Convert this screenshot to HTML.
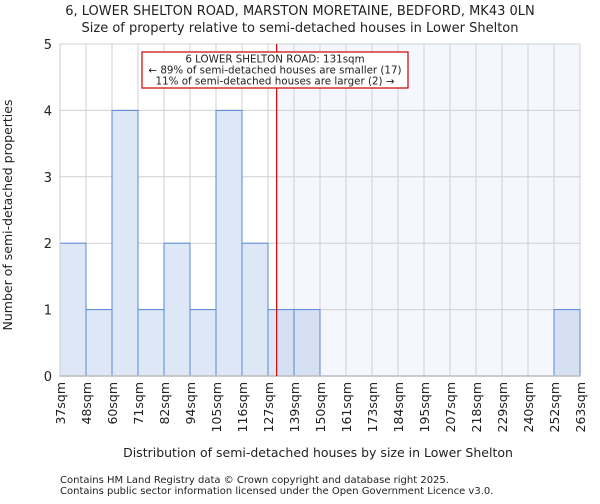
<!DOCTYPE html>
<html><head><meta charset="utf-8"><style>
body{margin:0;background:#fff;font-family:"DejaVu Sans","Liberation Sans",sans-serif;}
text{font-family:"DejaVu Sans","Liberation Sans",sans-serif;fill:#222;}
</style></head><body>
<svg id="chart" width="600" height="500" xmlns="http://www.w3.org/2000/svg">
<text x="300" y="15" text-anchor="middle" font-size="13">6, LOWER SHELTON ROAD, MARSTON MORETAINE, BEDFORD, MK43 0LN</text>
<text x="300" y="32" text-anchor="middle" font-size="13">Size of property relative to semi-detached houses in Lower Shelton</text>
<g id="plot"></g>
<text x="318" y="457" text-anchor="middle" font-size="12.5">Distribution of semi-detached houses by size in Lower Shelton</text>
<text transform="translate(12,215) rotate(-90)" text-anchor="middle" font-size="12.5">Number of semi-detached properties</text>
<text x="60" y="483" font-size="10">Contains HM Land Registry data © Crown copyright and database right 2025.</text>
<text x="60" y="494" font-size="10">Contains public sector information licensed under the Open Government Licence v3.0.</text>
</svg>
<script>
const binLabels=["37sqm","48sqm","60sqm","71sqm","82sqm","94sqm","105sqm","116sqm","127sqm","139sqm","150sqm","161sqm","173sqm","184sqm","195sqm","207sqm","218sqm","229sqm","240sqm","252sqm","263sqm"];
const binEdges=[37,48,60,71,82,94,105,116,127,139,150,161,173,184,195,207,218,229,240,252,263];
const counts=[2,1,4,1,2,1,4,2,1,1,0,0,0,0,0,0,0,0,0,1];
const yTicks=[0,1,2,3,4,5];
const propertySize=131;
const annotationLines=["6 LOWER SHELTON ROAD: 131sqm","← 89% of semi-detached houses are smaller (17)","11% of semi-detached houses are larger (2) →"];

const NS="http://www.w3.org/2000/svg";
const L=60,R=580,T=44,B=376,yMax=5;
const g=document.getElementById('plot');
const bw=(R-L)/counts.length;
function xi(i){return L+i*bw;}
function xv(v){let i=0;while(i<binEdges.length-2&&v>binEdges[i+1])i++;return xi(i)+bw*(v-binEdges[i])/(binEdges[i+1]-binEdges[i]);}
function y(v){return B-(B-T)*v/yMax;}
function mk(t,a,p){const e=document.createElementNS(NS,t);for(const k in a)e.setAttribute(k,a[k]);(p||g).appendChild(e);return e;}
const px=xv(propertySize);
let e=mk('rect',{x:px,y:T,width:R-px,height:B-T,fill:'#f4f7fe'});


for(let i=0;i<binLabels.length;i++){e=mk('line',{x1:xi(i),x2:xi(i),y1:T,y2:B,stroke:'#d0d0d0','stroke-width':1});

}
yTicks.forEach(t=>{e=mk('line',{x1:L,x2:R,y1:y(t),y2:y(t),stroke:'#d0d0d0','stroke-width':1});


e=mk('text',{x:L-8,y:y(t)+5,'text-anchor':'end','font-size':13});e.textContent=t;

});
counts.forEach((c,i)=>{if(c<=0)return;
e=mk('rect',{x:xi(i),y:y(c),width:bw,height:B-y(c),fill:'#dde7f5'});


const x0=Math.max(xi(i),px);
if(x0<xi(i)+bw){e=mk('rect',{x:x0,y:y(c),width:xi(i)+bw-x0,height:B-y(c),fill:'#d5e1f3'});

}
e=mk('rect',{x:xi(i),y:y(c),width:bw,height:B-y(c),fill:'none',stroke:'#5588d8','stroke-width':1});

});
e=mk('line',{x1:L,x2:R,y1:B,y2:B,stroke:'#bbbbbb','stroke-width':1.5});


e=mk('line',{x1:L,x2:L,y1:T,y2:B,stroke:'#cccccc','stroke-width':1});


binLabels.forEach((lab,i)=>{e=mk('text',{transform:`translate(${xi(i)+5},${B+6}) rotate(-90)`,'text-anchor':'end','font-size':12.5});e.textContent=lab;

});
e=mk('line',{x1:px,x2:px,y1:T,y2:B,stroke:'#cc0000','stroke-width':1.2});


e=mk('rect',{x:142,y:52,width:266,height:36,fill:'#fff',stroke:'#cc0000','stroke-width':1.2});


annotationLines.forEach((s,i)=>{e=mk('text',{x:275,y:62.5+i*11,'text-anchor':'middle','font-size':10.3});e.textContent=s;

});
</script>
</body></html>
